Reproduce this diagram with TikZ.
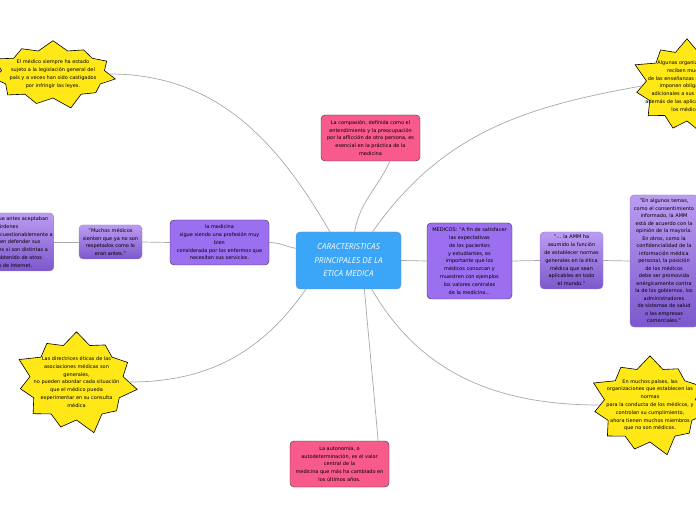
\documentclass[tikz,border=0pt]{standalone}
\usepackage{fontspec}
\setmainfont{DejaVu Sans}
\newfontfamily\hubfont{Open Sans}
\usetikzlibrary{shapes.symbols}
\definecolor{hubcolor}{HTML}{3BA5F7}
\definecolor{hubedge}{HTML}{7F8C99}
\definecolor{pinkcolor}{HTML}{F85A8C}
\definecolor{purplecolor}{HTML}{9C6EF0}
\definecolor{softtop}{HTML}{BC9CF2}
\definecolor{softbottom}{HTML}{7C58CC}
\definecolor{softedge}{HTML}{9A80D0}
\definecolor{burstcolor}{HTML}{FFE816}
\definecolor{linkcolor}{HTML}{A8A8A8}
\tikzset{
  mm text/.style={font=\fontsize{5}{7.8}\selectfont,align=center,text=black},
  mm hub/.style={fill=hubcolor,draw=hubedge,rounded corners=4pt,text=white,align=center,
    font=\hubfont\itshape\fontsize{8.2}{13.5}\selectfont,minimum width=105pt,minimum height=57pt},
  mm pink/.style={mm text,fill=pinkcolor,draw=black!80,rounded corners=4pt,
    minimum width=99pt,minimum height=46pt,inner sep=1pt},
  mm box/.style={mm text,fill=purplecolor,draw=black!80,rounded corners=4pt,inner sep=1pt},
  mm soft/.style={mm text,top color=softtop,bottom color=softbottom,draw=softedge,
    rounded corners=4pt,inner sep=1pt},
  mm burst/.style={starburst,starburst points=11,starburst point height=17pt,
    fill=burstcolor,draw=black,line width=.6pt},
  mm link/.style={draw=linkcolor,line width=.7pt}
}

\begin{document}
\begin{tikzpicture}[x=1pt,y=1pt]
  \useasboundingbox (0,0) rectangle (696,520);
  \clip (0,0) rectangle (696,520);
  % centre
  \node[mm hub] (hub) at (348.5,259.5) {CARACTERISTICAS\\PRINCIPALES DE LA\\ETICA MEDICA};
  % pink boxes
  \node[mm pink] (compasion) at (370.5,382) {La compasión, definida como el\\entendimiento y la preocupación\\por la aflicción de otra persona, es\\esencial en la práctica de la\\medicina};
  \node[mm pink] (autonomia) at (339.5,56) {La autonomía, o\\autodeterminación, es el valor\\central de la\\medicina que más ha cambiado en\\los últimos años.};
  % left branch
  \node[mm box,minimum width=99pt,minimum height=45pt] (medicina) at (219.5,277.5) {la medicina\\sigue siendo una profesión muy\\bien\\considerada por los enfermos que\\necesitan sus servicios.};
  \node[mm soft,minimum width=63pt,minimum height=34pt] (muchos) at (110.5,278) {"Muchos médicos\\sienten que ya no son\\respetados como lo\\eran antes."};
  \node[mm soft,minimum width=97pt,minimum height=58pt] (pacientes) at (4,278) {Los pacientes que antes aceptaban\\las órdenes\\de sus médicos incuestionablemente a\\veces les piden defender sus\\recomendaciones si son distintas a\\los consejos obtenido de otros\\médicos o de Internet.};
  % right branch
  \node[mm box,minimum width=85pt,minimum height=76pt] (medicos) at (469.5,259) {MEDICOS: "A fin de satisfacer\\las expectativas\\de los pacientes\\y estudiantes, es\\importante que los\\médicos conozcan y\\muestren con ejemplos\\los valores centrales\\de la medicina...};
  \node[mm soft,minimum width=63pt,minimum height=57pt] (amm) at (571.5,259.5) {"... la AMM ha\\asumido la función\\de establecer normas\\generales en la ética\\médica que sean\\aplicables en todo\\el mundo."};
  \node[mm soft,minimum width=68pt,minimum height=132pt,font=\fontsize{5}{7.5}\selectfont] (temas) at (664,259) {"En algunos temas,\\como el consentimiento\\informado, la AMM\\está de acuerdo con la\\opinión de la mayoría.\\En otros, como la\\confidencialidad de la\\información médica\\personal, la posición\\de los médicos\\debe ser promovida\\enérgicamente contra\\la de los gobiernos, los\\administradores\\de sistemas de salud\\o las empresas\\comerciales."};
  % bursts
  \node[mm burst,starburst point height=13pt,minimum width=130pt,minimum height=74pt,
    label={[mm text]center:{El médico siempre ha estado\\sujeto a la legislación general del\\país y a veces han sido castigados\\por infringir las leyes.}}] (legislacion) at (53,446) {};
  \node[mm burst,minimum width=116pt,minimum height=104pt,
    label={[mm text]center:{Algunas organizaciones\\reciben muchas\\de las enseñanzas de la AMM y\\imponen obligaciones\\adicionales a sus miembros,\\además de las aplicables a todos\\los médicos.}}] (organizaciones) at (687,434) {};
  \node[mm burst,minimum width=128pt,minimum height=110pt,
    label={[mm text]center:{Las directrices éticas de las\\asociaciones médicas son\\generales,\\no pueden abordar cada situación\\que el médico pueda\\experimentar en su consulta\\médica}}] (directrices) at (76.5,138) {};
  \node[mm burst,minimum width=126pt,minimum height=108pt,
    label={[mm text]center:{En muchos países, las\\organizaciones que establecen las\\normas\\para la conducta de los médicos, y\\controlan su cumplimiento,\\ahora tienen muchos miembros\\que no son médicos.}}] (paises) at (650,115) {};
  % links
  \draw[mm link] (hub.123) to[out=120,in=0] (legislacion.east);
  \draw[mm link] (hub.78) to[out=80,in=-115] (compasion.-50);
  \draw[mm link] (hub.50) to[out=55,in=190] (organizaciones.west);
  \draw[mm link] (hub.-146) to[out=-125,in=0] (directrices.east);
  \draw[mm link] (hub.-61) to[out=-85,in=95] (autonomia.31);
  \draw[mm link] (hub.-51) to[out=-60,in=180] (paises.west);
  \draw[mm link] (medicina.east) to[out=0,in=170] (hub.167);
  \draw[mm link] (muchos.east) -- (medicina.west);
  \draw[mm link] (pacientes.east) -- (muchos.west);
  \draw[mm link] (hub.east) -- (medicos.west);
  \draw[mm link] (medicos.east) -- (amm.west);
  \draw[mm link] (amm.east) -- (temas.west);
\end{tikzpicture}
\end{document}
